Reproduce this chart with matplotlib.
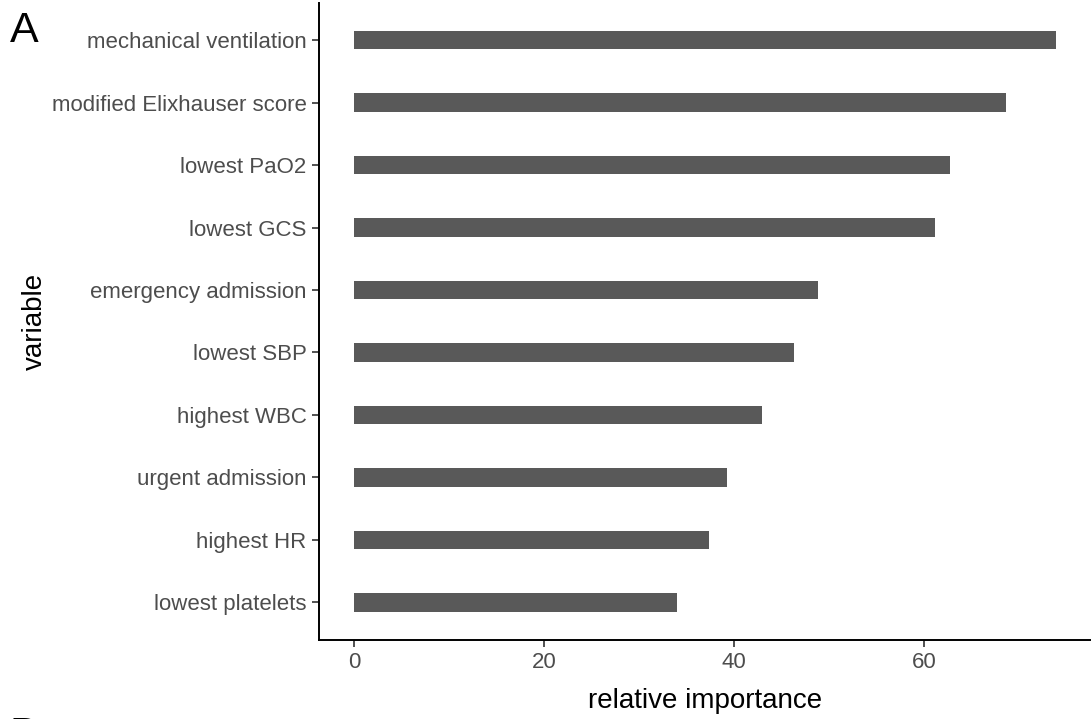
import matplotlib
matplotlib.use("Agg")
import matplotlib.pyplot as plt

plt.rcParams['font.family'] = ['Liberation Sans', 'DejaVu Sans']

variables = ["mechanical ventilation", "modified Elixhauser score", "lowest PaO2",
             "lowest GCS", "emergency admission", "lowest SBP", "highest WBC",
             "urgent admission", "highest HR", "lowest platelets"]
importance = [73.9, 68.7, 62.7, 61.2, 48.9, 46.3, 42.9, 39.3, 37.4, 34.0]
xticks = [0, 20, 40, 60]

fig = plt.figure(figsize=(10.91, 7.19), dpi=100)
ax = fig.add_axes([0.2924, 0.1099, 0.7076, 0.8866])

ypos = list(range(len(variables), 0, -1))
ax.barh(ypos, importance, height=0.3, color="#595959")

ax.set_xlim(-3.7, 77.6)
ax.set_ylim(0.4, len(variables) + 0.6)
ax.set_yticks(ypos)
ax.set_yticklabels(variables)
ax.set_xticks(xticks)
ax.tick_params(axis='both', labelsize=16, colors="#333333", labelcolor="#4D4D4D",
               length=5, width=1.2)
ax.tick_params(axis='y', pad=4)
for s in ["top", "right"]:
    ax.spines[s].set_visible(False)
for s in ["left", "bottom"]:
    ax.spines[s].set_linewidth(1.4)

ax.set_xlabel("relative importance", fontsize=20, labelpad=11)
ax.set_ylabel("variable", fontsize=20, labelpad=3)

fig.text(0.009, 0.985, "A", fontsize=31, va="top", ha="left")
fig.text(0.009, -0.052, "B", fontsize=31, va="bottom", ha="left")

fig.savefig("out.png", dpi=100)
